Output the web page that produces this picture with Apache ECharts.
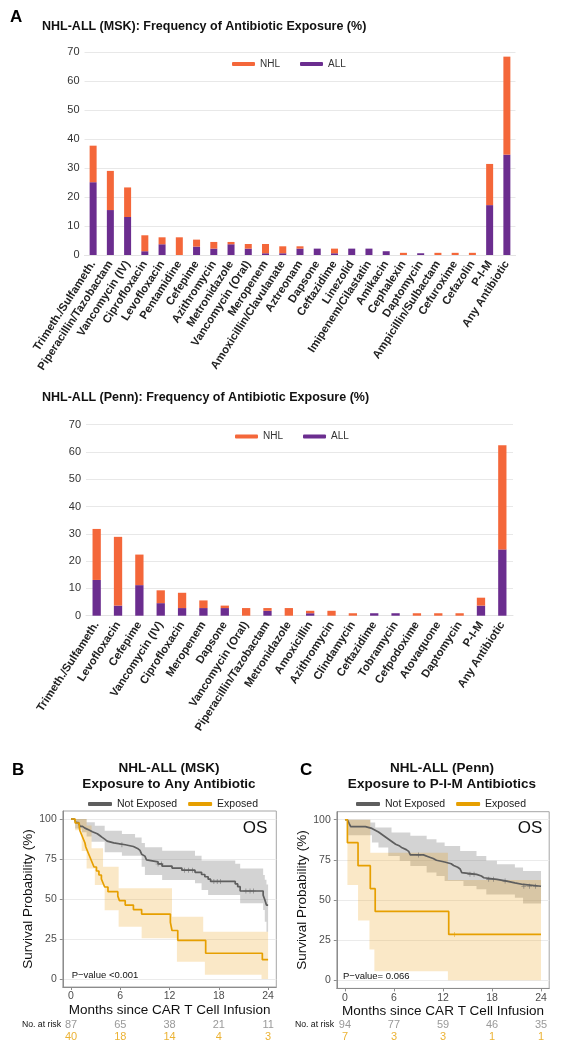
<!DOCTYPE html>
<html><head><meta charset="utf-8">
<script src="https://cdn.jsdelivr.net/npm/echarts@6/dist/echarts.min.js"></script>
<style>html,body{margin:0;padding:0;background:#fff}#c{width:563px;height:1050px}</style>
</head><body><div id="c"></div>
<script>
// ---------- Panel A: MSK ----------
const mskCategories = ['Trimeth./Sulfameth.','Piperacillin/Tazobactam','Vancomycin (IV)','Ciprofloxacin','Levofloxacin','Pentamidine','Cefepime','Azithromycin','Metronidazole','Vancomycin (Oral)','Meropenem','Amoxicillin/Clavulanate','Aztreonam','Dapsone','Ceftazidime','Linezolid','Imipenem/Cilastatin','Amikacin','Cephalexin','Daptomycin','Ampicillin/Sulbactam','Cefuroxime','Cefazolin','P-I-M','Any Antibiotic'];
const mskAll = [25.1,15.5,13.1,1.3,3.7,0,2.9,2.2,3.7,2.2,0.6,0.6,2.2,2.2,0.6,2.2,2.2,1.3,0,0.6,0,0,0,17.2,34.6];
const mskNhl = [12.6,13.5,10.2,5.5,2.4,6.1,2.4,2.3,0.8,1.6,3.2,2.4,0.8,0,1.6,0,0,0,0.75,0,0.75,0.75,0.75,14.2,33.8];

// ---------- Panel A: Penn ----------
const pennCategories = ['Trimeth./Sulfameth.','Levofloxacin','Cefepime','Vancomycin (IV)','Ciprofloxacin','Meropenem','Dapsone','Vancomycin (Oral)','Piperacillin/Tazobactam','Metronidazole','Amoxicillin','Azithromycin','Clindamycin','Ceftazidime','Tobramycin','Cefpodoxime','Atovaquone','Daptomycin','P-I-M','Any Antibiotic'];
const pennAll = [13.1,3.7,11.2,4.6,2.8,2.8,2.8,0,1.8,0,0.9,0,0,0.9,0.9,0,0,0,3.7,24.3];
const pennNhl = [18.7,25.2,11.2,4.7,5.6,2.8,0.9,2.8,1.0,2.8,0.9,1.8,0.9,0,0,0.9,0.9,0.9,2.9,38.2];

// ---------- Panels B/C: Kaplan-Meier ----------
const kmTimeTicks = [0,6,12,18,24];
const kmSurvTicks = [0,25,50,75,100];

const mskNotExposed = [[0,100],[0.4,98.9],[0.6,97.7],[0.9,96.6],[1.1,95.4],[1.4,94.3],[1.7,93.1],[2.2,92.0],[2.6,90.8],[3.2,89.7],[3.5,88.5],[3.8,87.4],[4.1,86.2],[4.4,85.1],[5.2,83.9],[6.6,82.8],[7.6,81.6],[8.1,80.4],[8.4,79.2],[8.6,78.0],[8.8,76.8],[9.0,75.6],[9.2,74.4],[9.4,73.2],[10.6,71.9],[11.1,70.6],[12.3,69.3],[13.5,68.0],[15.1,66.7],[15.9,65.3],[16.3,63.9],[16.7,62.4],[17.0,61.0],[20.0,59.4],[20.3,57.7],[20.6,55.0],[23.4,52.3],[23.6,49.5],[23.8,46.2],[24,46.2]];
const mskExposed = [[0,100],[0.5,97.5],[1.0,95],[1.1,92.5],[1.3,90],[1.5,87.5],[1.7,85],[1.8,82.5],[2.0,80],[2.2,77.5],[2.4,75],[2.6,72.5],[2.8,70],[3.1,67.5],[3.4,65],[3.7,62.5],[3.9,60],[4.1,57.5],[4.5,54.6],[5.7,51.8],[5.9,49.0],[6.6,46.2],[7.6,43.4],[8.6,40.6],[12.1,35.4],[12.3,30.3],[13.0,24.2],[16.4,16.1],[23.3,12.1],[24,12.1]];
const mskNotExposedCI = [[0,100,100],[0.5,94,100],[1.3,91.7,100],[1.9,89,97.9],[2.5,85.8,97.9],[2.9,85.8,95.8],[4.1,79.2,92.7],[6.2,77.1,90.6],[7.8,77.1,88.5],[8.6,70.2,85],[9.0,65,82.3],[11.1,61.9,80.2],[15.1,59.8,77.1],[15.9,55.6,74],[16.7,52.5,74],[20,52.5,72],[20.6,47.3,69],[23.4,43.1,65],[23.6,35.8,62],[23.8,29.6,59],[24,29.6,59]];
const mskExposedCI = [[0,100,100],[0.5,93,100],[1.3,80,100],[1.9,69,96],[2.5,69,81.7],[2.9,58.8,81.7],[3.9,58.8,70.2],[4.1,43,70.2],[5.8,32.7,56.7],[8.6,25.4,56.7],[12.3,25.4,38.9],[12.9,10.8,38.9],[16.1,10.8,29.6],[16.3,2.6,29.6],[23.2,0,29.6],[24,0,29.6]];
const mskNotExposedCensor = [6.2,10.6,11.0,13.8,14.3,14.8,17.4,17.8,18.2,21.3,21.8,22.2];
const mskExposedCensor = [];

const pennNotExposed = [[0,100],[0.3,98.9],[0.5,97.8],[0.6,96.8],[0.7,95.7],[2.5,94.6],[3.3,93.5],[3.7,92.4],[4.1,91.3],[4.4,90.2],[4.7,89.1],[5.0,88.0],[5.3,86.9],[5.6,85.8],[5.9,84.7],[6.2,83.6],[6.7,82.5],[7.0,81.4],[7.5,80.3],[7.8,79.2],[8.0,78.1],[9.6,77.0],[10.2,75.9],[10.8,74.8],[11.2,73.7],[12.2,72.6],[13.0,71.5],[13.3,70.4],[13.8,69.3],[14.1,68.2],[14.3,67.1],[14.5,66.0],[16.1,65.0],[16.7,63.9],[17.0,62.9],[18.6,61.8],[19.8,60.7],[20.8,59.7],[21.8,58.6],[24,58.6]];
const pennExposed = [[0,100],[0.3,85.7],[1.6,71.4],[3.1,57.1],[3.7,42.9],[12.7,28.6],[24,28.6]];
const pennNotExposedCI = [[0,100,100],[0.4,90.4,100],[3.1,90.4,98.3],[3.3,85.8,98.3],[3.7,85.8,95.2],[4.1,82.7,95.2],[5.3,77.5,95.2],[5.7,77.5,92.1],[6.7,74.4,92.1],[8,71.2,90],[10,67.1,87.9],[11.2,65,85.8],[12.2,61.9,83.7],[14.1,61.9,80.6],[14.5,58.7,80.6],[16.1,56.7,77.5],[17.3,53.5,74.4],[18.6,53.5,72.3],[20.8,51.5,70.2],[21.8,47.9,68.1],[24,47.9,68.1]];
const pennExposedCI = [[0,100,100],[0.3,59.4,100],[1.6,37.3,100],[3.0,19.2,100],[3.1,19.2,79.4],[3.6,5.6,79.4],[12.6,0,62.5],[24,0,62.5]];
const pennNotExposedCensor = [9.0,15.3,15.8,17.6,18.2,19.6,21.9,22.6,23.3];
const pennExposedCensor = [13.4];

const riskTimes = [0,6,12,18,24];
const mskRiskNot = [87,65,38,21,11];
const mskRiskExp = [40,18,14,4,3];
const pennRiskNot = [94,77,59,46,35];
const pennRiskExp = [7,3,3,1,1];

// ---------- styling ----------
const FONT = 'Liberation Sans, Arial, Helvetica, sans-serif';
const C_NHL = '#F4673A', C_ALL = '#6B2D8F';
const C_NOT = '#5e5e5e', C_EXP = '#E69F00';
const BAND_NOT = 'rgba(120,120,120,0.33)', BAND_EXP = 'rgba(236,160,20,0.24)';

function stepAt(curve, t){ let v = curve[0][1]; for (const p of curve) if (p[0] <= t) v = p[1]; return v; }

function barAxes(gi, cats){
  return {
    x: {type:'category', gridIndex:gi, data:cats,
        axisLine:{show:true, lineStyle:{color:'#e3e3e3'}}, axisTick:{show:false},
        axisLabel:{interval:0, rotate:57, margin:7, fontSize:11.3, fontWeight:'bold', color:'#222', fontFamily:FONT}},
    y: {type:'value', gridIndex:gi, min:0, max:70, interval:10,
        axisLine:{show:false}, axisTick:{show:false},
        splitLine:{lineStyle:{color:'#e8e8e8', width:1}},
        axisLabel:{fontSize:11, color:'#333', margin:5, fontFamily:FONT}}
  };
}
function kmAxes(gi, xName){
  return {
    x: {type:'value', gridIndex:gi, min:-1, max:25,
        axisLine:{onZero:false, lineStyle:{color:'#8c8c8c'}},
        axisTick:{customValues:kmTimeTicks, length:3, lineStyle:{color:'#8c8c8c'}},
        axisLabel:{customValues:kmTimeTicks, fontSize:10.5, color:'#4d4d4d', margin:4, fontFamily:FONT},
        splitLine:{show:false},
        name:xName, nameLocation:'middle', nameGap:14,
        nameTextStyle:{fontSize:13.5, color:'#111', fontFamily:FONT}},
    y: {type:'value', gridIndex:gi, min:-5, max:105,
        axisLine:{onZero:false, lineStyle:{color:'#8c8c8c'}},
        axisTick:{customValues:kmSurvTicks, length:3, lineStyle:{color:'#8c8c8c'}},
        axisLabel:{customValues:kmSurvTicks, fontSize:10.5, color:'#4d4d4d', margin:6, fontFamily:FONT},
        splitLine:{show:true, lineStyle:{color:'#ebebeb'}},
        name:'Survival Probability (%)', nameLocation:'middle', nameGap:24,
        nameTextStyle:{fontSize:13.5, color:'#111', fontFamily:FONT}}
  };
}
function riskAxes(gi){
  return {
    x: {type:'value', gridIndex:gi, min:-1, max:25, show:false},
    y: {type:'category', gridIndex:gi, data:['Not Exposed','Exposed'], inverse:true, show:false}
  };
}
function bandSeries(name, band, color, ai){
  return {type:'custom', name:name, xAxisIndex:ai, yAxisIndex:ai, data:band, silent:true, z:1,
    encode:{x:0, y:[1,2]},
    renderItem:function(params, api){
      if (params.dataIndex !== 0) return null;
      const up = [], lo = [];
      for (let i = 0; i < band.length; i++){
        const t = band[i][0], tn = i < band.length-1 ? band[i+1][0] : t;
        up.push(api.coord([t, band[i][2]]), api.coord([tn, band[i][2]]));
        lo.push(api.coord([t, band[i][1]]), api.coord([tn, band[i][1]]));
      }
      return {type:'polygon', shape:{points: up.concat(lo.reverse())}, style:{fill:color}};
    }};
}
function curveSeries(name, curve, color, ai){
  return {type:'line', name:name, xAxisIndex:ai, yAxisIndex:ai, data:curve, step:'end',
    symbol:'none', color:color, lineStyle:{color:color, width:1.7}, z:3, silent:true};
}
const PLUS = 'path://M-0.6,-5H0.6V-0.6H5V0.6H0.6V5H-0.6V0.6H-5V-0.6H-0.6Z';
function censorSeries(name, times, curve, color, ai){
  return {type:'scatter', name:name, xAxisIndex:ai, yAxisIndex:ai,
    data:times.map(t => [t, stepAt(curve, t)]), symbol:PLUS, symbolSize:5,
    itemStyle:{color:color}, z:4, silent:true};
}
function riskSeries(name, row, vals, color, ai){
  return {type:'scatter', name:name, xAxisIndex:ai, yAxisIndex:ai, symbolSize:0, silent:true,
    data:riskTimes.map((t,i) => [t, row, vals[i]]),
    label:{show:true, position:'inside', formatter:p => String(p.value[2]), color:color, fontSize:11, fontFamily:FONT}};
}
function txt(x, y, text, size, weight, color, align){
  return {type:'text', x:x, y:y, silent:true,
    style:{text:text, fontSize:size, fontWeight:weight||'normal', fontFamily:FONT, fill:color||'#000',
           align:align||'left', verticalAlign:'middle'}};
}

const aM = barAxes(0, mskCategories), aP = barAxes(1, pennCategories);
const kB = kmAxes(2, 'Months since CAR T Cell Infusion'), kC = kmAxes(3, 'Months since CAR T Cell Infusion');
const rB = riskAxes(4), rC = riskAxes(5);

const option = {
  animation:false,
  backgroundColor:'#fff',
  textStyle:{fontFamily:FONT},
  grid:[
    {left:84.5, top:52, width:431, height:203},
    {left:86, top:424.7, width:427, height:191},
    {left:62.8, top:811, width:213.5, height:176, show:true, borderColor:'#a6a6a6', borderWidth:1},
    {left:336.8, top:811.7, width:212.4, height:176.7, show:true, borderColor:'#a6a6a6', borderWidth:1},
    {left:62.8, top:1019, width:213.5, height:24},
    {left:336.8, top:1019, width:212.4, height:24}
  ],
  xAxis:[aM.x, aP.x, kB.x, kC.x, rB.x, rC.x],
  yAxis:[aM.y, aP.y, kB.y, kC.y, rB.y, rC.y],
  legend:[
    {data:['NHL','ALL'], left:232, top:59, padding:0, itemWidth:23, itemHeight:4, itemGap:20, icon:'roundRect',
     textStyle:{fontSize:10, color:'#333', fontFamily:FONT}},
    {data:['NHL','ALL'], left:235, top:431.5, padding:0, itemWidth:23, itemHeight:4, itemGap:20, icon:'roundRect',
     textStyle:{fontSize:10, color:'#333', fontFamily:FONT}},
    {data:['Not Exposed','Exposed'], left:88, top:798.5, padding:0, itemWidth:24, itemHeight:4, itemGap:11, icon:'roundRect',
     textStyle:{fontSize:10.5, color:'#222', fontFamily:FONT}},
    {data:['Not Exposed','Exposed'], left:356, top:798.5, padding:0, itemWidth:24, itemHeight:4, itemGap:11, icon:'roundRect',
     textStyle:{fontSize:10.5, color:'#222', fontFamily:FONT}}
  ],
  series:[
    {type:'bar', name:'ALL', xAxisIndex:0, yAxisIndex:0, stack:'msk', data:mskAll, barWidth:7, itemStyle:{color:C_ALL}},
    {type:'bar', name:'NHL', xAxisIndex:0, yAxisIndex:0, stack:'msk', data:mskNhl, barWidth:7, itemStyle:{color:C_NHL}},
    {type:'bar', name:'ALL', xAxisIndex:1, yAxisIndex:1, stack:'penn', data:pennAll, barWidth:8.3, itemStyle:{color:C_ALL}},
    {type:'bar', name:'NHL', xAxisIndex:1, yAxisIndex:1, stack:'penn', data:pennNhl, barWidth:8.3, itemStyle:{color:C_NHL}},

    bandSeries('ciB_not', mskNotExposedCI, BAND_NOT, 2),
    bandSeries('ciB_exp', mskExposedCI, BAND_EXP, 2),
    curveSeries('Not Exposed', mskNotExposed, C_NOT, 2),
    curveSeries('Exposed', mskExposed, C_EXP, 2),
    censorSeries('cenB_not', mskNotExposedCensor, mskNotExposed, C_NOT, 2),
    censorSeries('cenB_exp', mskExposedCensor, mskExposed, C_EXP, 2),

    bandSeries('ciC_not', pennNotExposedCI, BAND_NOT, 3),
    bandSeries('ciC_exp', pennExposedCI, BAND_EXP, 3),
    curveSeries('Not Exposed', pennNotExposed, C_NOT, 3),
    curveSeries('Exposed', pennExposed, C_EXP, 3),
    censorSeries('cenC_not', pennNotExposedCensor, pennNotExposed, C_NOT, 3),
    censorSeries('cenC_exp', pennExposedCensor, pennExposed, C_EXP, 3),

    riskSeries('riskB_not', 'Not Exposed', mskRiskNot, '#808080', 4),
    riskSeries('riskB_exp', 'Exposed', mskRiskExp, C_EXP, 4),
    riskSeries('riskC_not', 'Not Exposed', pennRiskNot, '#808080', 5),
    riskSeries('riskC_exp', 'Exposed', pennRiskExp, C_EXP, 5)
  ],
  graphic:[
    txt(10, 17, 'A', 17, 'bold', '#000'),
    txt(42, 27, 'NHL-ALL (MSK): Frequency of Antibiotic Exposure (%)', 12.5, 'bold', '#111'),
    txt(42, 398, 'NHL-ALL (Penn): Frequency of Antibiotic Exposure (%)', 12.5, 'bold', '#111'),
    txt(12, 770, 'B', 17, 'bold', '#000'),
    txt(300, 770, 'C', 17, 'bold', '#000'),
    txt(169, 768.3, 'NHL-ALL (MSK)', 13.5, 'bold', '#111', 'center'),
    txt(169, 784, 'Exposure to Any Antibiotic', 13.5, 'bold', '#111', 'center'),
    txt(442, 768.3, 'NHL-ALL (Penn)', 13.5, 'bold', '#111', 'center'),
    txt(442, 784, 'Exposure to P-I-M Antibiotics', 13.5, 'bold', '#111', 'center'),
    txt(255, 828, 'OS', 17, 'normal', '#111', 'center'),
    txt(530, 828, 'OS', 17, 'normal', '#111', 'center'),
    txt(71.7, 975.7, 'P\u2212value <0.001', 9.5, 'normal', '#111'),
    txt(343, 976.7, 'P\u2212value= 0.066', 9.5, 'normal', '#111'),
    txt(61, 1025, 'No. at risk', 8.7, 'normal', '#111', 'right'),
    txt(334, 1025, 'No. at risk', 8.7, 'normal', '#111', 'right')
  ]
};
const chart = echarts.init(document.getElementById('c'), null, {renderer:'canvas'});
chart.setOption(option);
</script>
</body></html>
